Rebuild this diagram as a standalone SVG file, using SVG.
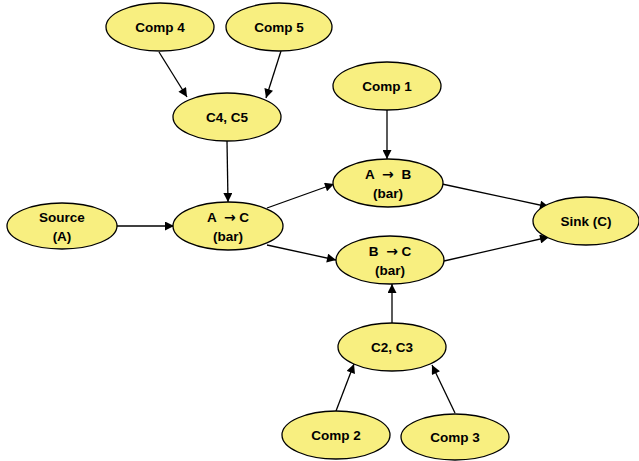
<svg xmlns="http://www.w3.org/2000/svg" width="639" height="461" viewBox="0 0 639 461">
<style>
.n ellipse{fill:#f8ef80;stroke:#000;stroke-width:1.3}
.n text{font-family:"Liberation Sans",Arial,sans-serif;font-weight:bold;font-size:13.5px;fill:#000;text-anchor:middle}
.n tspan.ar{font-family:"DejaVu Sans",sans-serif;font-size:14px}
.e line{stroke:#000;stroke-width:1.3;marker-end:url(#ah)}
</style>
<defs>
<marker id="ah" viewBox="0 0 10 10" refX="10" refY="5" markerWidth="10" markerHeight="9" markerUnits="userSpaceOnUse" orient="auto">
<path d="M0,0 L10,5 L0,10 z" fill="#000"/>
</marker>
</defs>
<rect width="639" height="461" fill="#fff"/>
<g id="connectors" class="e">
<line x1="159" y1="52" x2="187" y2="97"/>
<line x1="281" y1="51" x2="266" y2="98"/>
<line x1="227" y1="141" x2="228" y2="202"/>
<line x1="117" y1="226" x2="174" y2="226"/>
<line x1="267" y1="208" x2="334" y2="184"/>
<line x1="267" y1="245" x2="336" y2="260"/>
<line x1="387" y1="110" x2="387" y2="159"/>
<line x1="442" y1="184" x2="549" y2="207"/>
<line x1="444" y1="261" x2="549" y2="237"/>
<line x1="392" y1="323" x2="392" y2="284"/>
<line x1="336" y1="411" x2="354" y2="364"/>
<line x1="455" y1="413" x2="432" y2="365"/>
</g>
<g id="comp4" class="n"><ellipse cx="160" cy="27" rx="54" ry="24"/><text x="160" y="32">Comp 4</text></g>
<g id="comp5" class="n"><ellipse cx="279" cy="27" rx="53" ry="24"/><text x="279" y="32">Comp 5</text></g>
<g id="c4c5" class="n"><ellipse cx="227" cy="117" rx="54" ry="24"/><text x="227" y="122">C4, C5</text></g>
<g id="source" class="n"><ellipse cx="62" cy="226" rx="55" ry="23"/><text x="62" y="222">Source</text><text x="62" y="241">(A)</text></g>
<g id="ac" class="n"><ellipse cx="228" cy="226" rx="55" ry="24"/><text x="228" y="222">A <tspan class="ar" dx="4">→</tspan> C</text><text x="228" y="241">(bar)</text></g>
<g id="comp1" class="n"><ellipse cx="387" cy="86" rx="54" ry="24"/><text x="387" y="91">Comp 1</text></g>
<g id="ab" class="n"><ellipse cx="388" cy="183" rx="55" ry="24"/><text x="388" y="179">A <tspan class="ar" dx="4">→</tspan> <tspan dx="4">B</tspan></text><text x="388" y="198">(bar)</text></g>
<g id="sink" class="n"><ellipse cx="586" cy="221" rx="53" ry="24"/><text x="586" y="226">Sink (C)</text></g>
<g id="bc" class="n"><ellipse cx="390" cy="260" rx="54" ry="24"/><text x="390" y="256">B <tspan class="ar" dx="4">→</tspan> C</text><text x="390" y="275">(bar)</text></g>
<g id="c2c3" class="n"><ellipse cx="392" cy="347" rx="54" ry="24"/><text x="392" y="352">C2, C3</text></g>
<g id="comp2" class="n"><ellipse cx="336" cy="435" rx="54" ry="24"/><text x="336" y="440">Comp 2</text></g>
<g id="comp3" class="n"><ellipse cx="455" cy="437" rx="54" ry="23"/><text x="455" y="442">Comp 3</text></g>
</svg>
